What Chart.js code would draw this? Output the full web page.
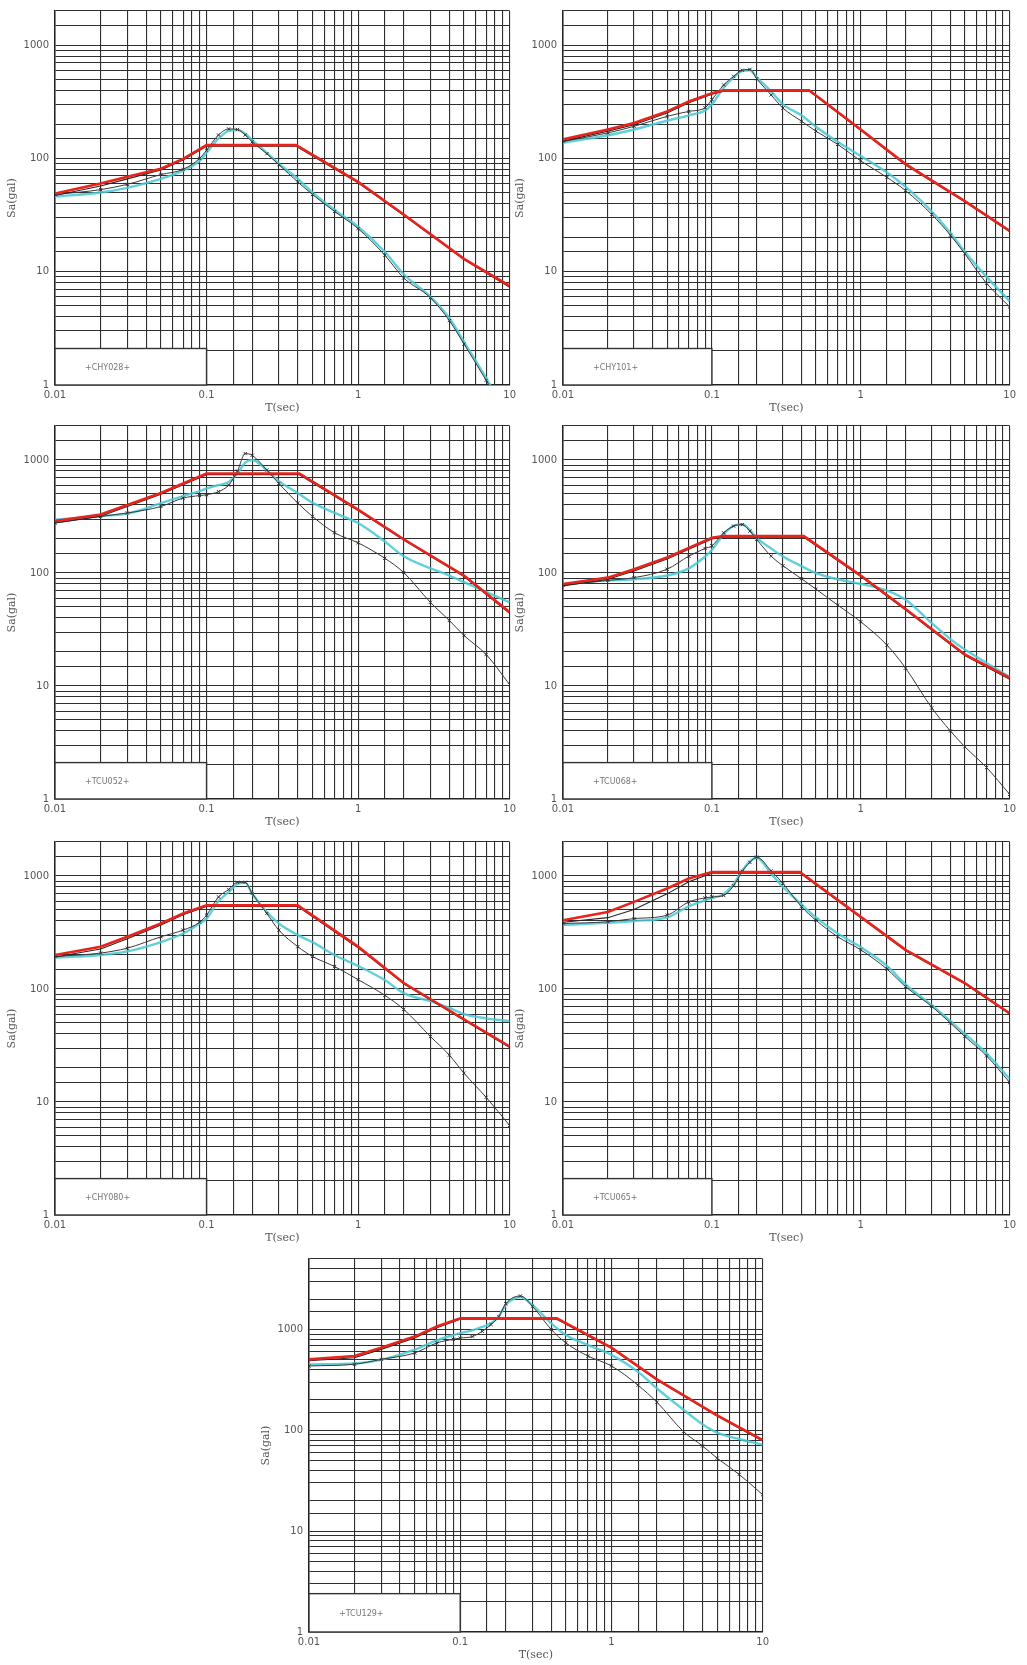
<!DOCTYPE html>
<html><head><meta charset="utf-8">
<script src="https://cdn.jsdelivr.net/npm/chart.js@4.4.0/dist/chart.umd.min.js"></script>
<style>
html,body{margin:0;padding:0;background:#fff;width:1027px;height:1665px;overflow:hidden}
.p{position:absolute}
.p canvas{filter:blur(0.35px)}
</style></head><body>
<script>
// ---------- DATA ----------
const xTickLabels = ['0.01', '0.1', '1', '10'];
const yTickLabels = ['1', '10', '100', '1000'];
const xTitle = 'T(sec)';
const yTitle = 'Sa(gal)';
const stationNames = ['+CHY028+', '+CHY101+', '+TCU052+', '+TCU068+', '+CHY080+', '+TCU065+', '+TCU129+'];
const yMaxValues = [2000, 2000, 2000, 2000, 2000, 2000, 5000];
const legendTopValues = [2.1, 2.1, 2.1, 2.1, 2.1, 2.1, 2.4];

// observed spectra period grid (sec)
const obsPeriods = [0.01, 0.02, 0.03, 0.05, 0.07, 0.09, 0.1, 0.12, 0.14, 0.16, 0.18, 0.2, 0.25, 0.3, 0.4, 0.5, 0.7, 1, 1.5, 2, 3, 4, 5, 7, 10];

// panel 1
const p1DesignT = [0.01, 0.02, 0.03, 0.05, 0.07, 0.1, 0.39, 1, 2, 5, 10];
const p1Design  = [49, 60, 69, 81, 99, 131, 131, 62, 32, 13, 7.5];
const p1Design2 = [47, 57, 66, 79, 97, 128, 128, 61, 31.5, 12.8, 7.3];
const p1ObsA = [46, 50, 55, 66, 78, 95, 112, 150, 175, 178, 165, 145, 112, 90, 66, 50, 35, 25, 15, 9.5, 6, 3.9, 2.4, 1.15, 0.5];
const p1ObsB = [48, 53, 59, 72, 80, 100, 118, 161, 182, 180, 161, 140, 110, 88, 62, 48, 34, 24, 14, 8.8, 5.9, 3.7, 2.3, 1.1, 0.5];
// panel 2
const p2DesignT = [0.01, 0.02, 0.03, 0.05, 0.07, 0.1, 0.12, 0.45, 1, 2, 5, 10];
const p2Design  = [147, 180, 205, 260, 318, 376, 400, 400, 180, 89, 42, 23];
const p2Design2 = [142, 174, 198, 252, 310, 368, 392, 392, 177, 87.5, 41.5, 22.5];
const p2ObsA = [138, 160, 180, 215, 240, 265, 300, 420, 520, 590, 600, 520, 390, 300, 240, 190, 140, 105, 75, 56, 34, 22, 15, 9, 5.5];
const p2ObsB = [141, 168, 192, 235, 260, 280, 330, 445, 530, 600, 610, 505, 363, 278, 213, 174, 133, 95, 68, 52, 32, 21, 14.4, 7.9, 4.9];
// panel 3
const p3DesignT = [0.01, 0.02, 0.03, 0.05, 0.07, 0.1, 0.41, 1, 2, 5, 10];
const p3Design  = [288, 330, 400, 510, 620, 760, 760, 364, 199, 95, 45];
const p3Design2 = [278, 318, 388, 498, 605, 742, 742, 358, 196, 93, 44];
const p3ObsA = [297, 320, 335, 415, 480, 530, 560, 600, 640, 760, 950, 1000, 810, 650, 510, 420, 340, 277, 190, 141, 110, 95, 83, 68, 55];
const p3ObsB = [277, 317, 340, 388, 460, 485, 493, 525, 600, 800, 1140, 1100, 815, 620, 416, 317, 227, 185, 135, 101, 55, 38, 28, 19, 10.3];
// panel 4
const p4DesignT = [0.01, 0.02, 0.03, 0.05, 0.07, 0.1, 0.12, 0.415, 1, 2, 5, 10];
const p4Design  = [80, 91, 108, 137, 167, 205, 212, 212, 95, 48, 19, 11.8];
const p4Design2 = [77, 88, 104, 133, 162, 200, 207, 207, 93, 47, 18.6, 11.5];
const p4ObsA = [80, 86, 88, 95, 110, 140, 160, 220, 262, 270, 240, 205, 165, 140, 115, 100, 88, 80, 70, 58, 36, 26, 21, 16, 12];
const p4ObsB = [78, 86, 91, 108, 141, 165, 174, 227, 260, 268, 235, 198, 141, 116, 89, 72, 52, 37, 23, 14.4, 6.4, 4, 2.9, 1.9, 1.1];
// panel 5
const p5DesignT = [0.01, 0.02, 0.03, 0.05, 0.07, 0.1, 0.40, 1, 2, 5, 10];
const p5Design  = [200, 237, 290, 380, 466, 550, 550, 237, 113, 54, 31];
const p5Design2 = [192, 226, 279, 368, 455, 538, 538, 232, 111, 53, 30.3];
const p5ObsA = [190, 200, 215, 260, 310, 380, 420, 600, 720, 850, 870, 700, 480, 380, 300, 260, 200, 160, 120, 92, 78, 68, 60, 55, 52];
const p5ObsB = [194, 208, 230, 290, 332, 390, 450, 653, 760, 880, 880, 700, 466, 332, 237, 194, 158, 121, 88, 66, 38, 26, 18, 11, 6.2];
// panel 6
const p6DesignT = [0.01, 0.02, 0.03, 0.05, 0.07, 0.1, 0.39, 1, 2, 5, 10];
const p6Design  = [406, 480, 590, 775, 950, 1085, 1085, 435, 222, 113, 61];
const p6Design2 = [390, 428, 505, 695, 890, 1060, 1060, 428, 218, 111, 60];
const p6ObsA = [370, 385, 400, 430, 540, 610, 640, 690, 850, 1120, 1350, 1450, 1050, 800, 560, 430, 310, 235, 160, 110, 72, 52, 40, 27, 16];
const p6ObsB = [380, 394, 420, 450, 590, 640, 653, 673, 820, 1100, 1320, 1470, 1110, 860, 535, 406, 290, 222, 150, 105, 70, 50, 38, 25.6, 14.9];
// panel 7
const p7DesignT = [0.01, 0.02, 0.03, 0.05, 0.07, 0.1, 0.435, 1, 2, 5, 10];
const p7Design  = [505, 545, 660, 850, 1070, 1290, 1290, 660, 320, 141, 80];
const p7Design2 = [490, 525, 635, 825, 1040, 1262, 1262, 650, 315, 139, 78.5];
const p7ObsA = [450, 460, 500, 630, 780, 880, 920, 980, 1060, 1150, 1350, 1750, 2100, 1750, 1150, 880, 700, 560, 380, 260, 160, 115, 95, 82, 72];
const p7ObsB = [435, 452, 505, 585, 735, 800, 822, 850, 960, 1120, 1340, 1800, 2150, 1700, 1000, 735, 545, 435, 280, 190, 97, 70, 53, 36.5, 23];

// ---------- LAYOUT (plot-area boxes in page pixels) ----------
const boxes = [
  {L: 55, T: 7, W: 457, H: 378},
  {L: 563, T: 7, W: 449, H: 378},
  {L: 55, T: 422, W: 457, H: 377},
  {L: 563, T: 422, W: 449, H: 377},
  {L: 55, T: 838, W: 457, H: 377},
  {L: 563, T: 838, W: 449, H: 377},
  {L: 309, T: 1255, W: 456, H: 377}
];

const panelData = [
  [p1DesignT, p1Design, p1Design2, p1ObsA, p1ObsB],
  [p2DesignT, p2Design, p2Design2, p2ObsA, p2ObsB],
  [p3DesignT, p3Design, p3Design2, p3ObsA, p3ObsB],
  [p4DesignT, p4Design, p4Design2, p4ObsA, p4ObsB],
  [p5DesignT, p5Design, p5Design2, p5ObsA, p5ObsB],
  [p6DesignT, p6Design, p6Design2, p6ObsA, p6ObsB],
  [p7DesignT, p7Design, p7Design2, p7ObsA, p7ObsB]
];

const pts = (xs, ys) => xs.map((x, i) => ({x: x, y: ys[i]}));
const isDecade = v => Math.abs(Math.log10(v) - Math.round(Math.log10(v))) < 1e-6;

const legendBox = {
  id: 'legendBox',
  afterDatasetsDraw(chart, args, opts) {
    const {ctx, scales: {x, y}} = chart;
    const l = x.getPixelForValue(0.01), r = x.getPixelForValue(0.1);
    const t = y.getPixelForValue(opts.top), b = y.getPixelForValue(1);
    ctx.save();
    ctx.fillStyle = '#fff';
    ctx.fillRect(l, t, r - l, b - t);
    ctx.strokeStyle = '#333';
    ctx.lineWidth = 1.4;
    ctx.strokeRect(l, t, r - l, b - t);
    ctx.fillStyle = '#777';
    ctx.font = '8px "DejaVu Sans"';
    ctx.textBaseline = 'middle';
    ctx.fillText(opts.name, l + 30, (t + b) / 2 + 1);
    ctx.restore();
  }
};

const PADL = 55, PADT = 8, PADR = 8, PADB = 30;
const gridColor = '#2e2e2e';
const textColor = '#555';

boxes.forEach((box, i) => {
  const [dT, dS, dS2, oA, oB] = panelData[i];
  const div = document.createElement('div');
  div.className = 'p';
  div.style.left = (box.L - PADL) + 'px';
  div.style.top = (box.T - PADT) + 'px';
  div.style.width = (box.W + PADL + PADR) + 'px';
  div.style.height = (box.H + PADT + PADB) + 'px';
  const cv = document.createElement('canvas');
  div.appendChild(cv);
  document.body.appendChild(div);
  new Chart(cv, {
    type: 'line',
    data: {
      datasets: [
        {label: 'design', data: pts(dT, dS), borderColor: '#e8231c', borderWidth: 2.6, pointRadius: 0, order: 0},
        {label: 'design2', data: pts(dT, dS2), borderColor: '#262626', borderWidth: 1.1, pointRadius: 0, order: 1},
        {label: 'obsA', data: pts(obsPeriods, oA), borderColor: 'rgba(70,200,212,0.85)', borderWidth: 2.4, pointRadius: 0, cubicInterpolationMode: 'monotone', order: 3},
        {label: 'obsB', data: pts(obsPeriods, oB), borderColor: '#3a3a3a', borderWidth: 1, pointStyle: 'crossRot', pointRadius: 2.3, pointBorderColor: '#333', pointBorderWidth: 1, cubicInterpolationMode: 'monotone', order: 2}
      ]
    },
    options: {
      responsive: true, maintainAspectRatio: false, animation: false,
      layout: {padding: {top: PADT, right: PADR, left: 0, bottom: 0}},
      plugins: {legend: {display: false}, tooltip: {enabled: false}, legendBox: {top: legendTopValues[i], name: stationNames[i]}},
      scales: {
        x: {
          type: 'logarithmic', min: 0.01, max: 10,
          afterFit(s) { s.height = PADB; },
          grid: {color: gridColor, lineWidth: 1.1, drawTicks: false},
          border: {color: '#222', width: 1.5},
          ticks: {autoSkip: false, maxRotation: 0, padding: 4, color: textColor, font: {family: 'DejaVu Sans', size: 10},
            callback: v => isDecade(v) ? xTickLabels[Math.round(Math.log10(v)) + 2] : ''},
          title: {display: true, text: xTitle, color: textColor, font: {family: 'DejaVu Serif', size: 11}, padding: {top: 0, bottom: 0}}
        },
        y: {
          type: 'logarithmic', min: 1, max: yMaxValues[i],
          afterFit(s) { s.width = PADL; },
          grid: {color: gridColor, lineWidth: 1.1, drawTicks: false},
          border: {color: '#222', width: 1.5},
          ticks: {autoSkip: false, padding: 6, color: textColor, font: {family: 'DejaVu Sans', size: 10},
            callback: v => isDecade(v) ? yTickLabels[Math.round(Math.log10(v))] : ''},
          title: {display: true, text: yTitle, color: textColor, font: {family: 'DejaVu Serif', size: 11}, padding: {top: 6, bottom: 0}}
        }
      }
    },
    plugins: [legendBox]
  });
});
</script>
</body></html>
